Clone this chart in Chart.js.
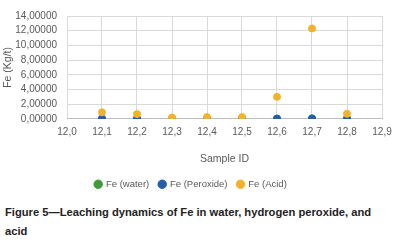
<!DOCTYPE html>
<html>
<head>
<meta charset="utf-8">
<script src="https://cdn.jsdelivr.net/npm/chart.js@4/dist/chart.umd.min.js"></script>
<style>
  html, body { margin: 0; padding: 0; background: #fff; }
  #wrap { position: relative; width: 402px; height: 199px; }
  #caption {
    font-family: "Liberation Sans", Arial, sans-serif;
    font-weight: bold;
    font-size: 11.2px;
    line-height: 19px;
    color: #222;
    margin: 4px 0 0 5px;
    width: 390px;
  }
</style>
</head>
<body>
<div id="wrap"><canvas id="feChart" width="402" height="199"></canvas></div>
<div id="caption">Figure 5—Leaching dynamics of Fe in water, hydrogen peroxide, and acid</div>
<script>
// Fe leaching chart (scatter)

const sampleIds = [12.1, 12.2, 12.3, 12.4, 12.5, 12.6, 12.7, 12.8];
const feWater = [0.02, 0.02, 0.02, 0.02, 0.02, 0.02, 0.02, 0.02];
const fePeroxide = [0.05, 0.06, 0.04, 0.05, 0.04, 0.05, 0.08, 0.05];
const feAcid = [0.9, 0.65, 0.2, 0.25, 0.25, 3.0, 12.3, 0.7];
const yTicks = [0, 2, 4, 6, 8, 10, 12, 14];
const xTicks = [12.0, 12.1, 12.2, 12.3, 12.4, 12.5, 12.6, 12.7, 12.8, 12.9];

function pts(vals) {
  return sampleIds.map((x, i) => ({ x: x, y: vals[i] }));
}

const tickFont = { family: '"Liberation Sans", Arial, sans-serif', size: 10 };
const grey = '#595959';

const ctx = document.getElementById('feChart').getContext('2d');
new Chart(ctx, {
  type: 'scatter',
  data: {
    datasets: [
      { label: 'Fe (water)', data: pts(feWater), backgroundColor: '#3e9a3c', borderColor: '#3e9a3c', pointRadius: 3.5, order: 3 },
      { label: 'Fe (Peroxide)', data: pts(fePeroxide), backgroundColor: '#245ea8', borderColor: '#245ea8', pointRadius: 3.5, order: 2 },
      { label: 'Fe (Acid)', data: pts(feAcid), backgroundColor: '#f2b32a', borderColor: '#f2b32a', pointRadius: 3.5, order: 1 }
    ]
  },
  options: {
    responsive: false,
    animation: false,
    layout: { padding: { top: 12, right: 20, left: 0, bottom: 0 } },
    plugins: {
      tooltip: { enabled: false },
      legend: {
        position: 'bottom',
        labels: {
          usePointStyle: true,
          pointStyle: 'circle',
          boxWidth: 6,
          boxHeight: 6,
          padding: 10,
          color: grey,
          font: { family: tickFont.family, size: 9.5 },
          sort: (a, b) => a.datasetIndex - b.datasetIndex
        }
      }
    },
    scales: {
      x: {
        type: 'linear',
        min: 12.0,
        max: 12.9,
        afterBuildTicks: axis => { axis.ticks = xTicks.map(v => ({ value: v })); },
        ticks: {
          color: grey,
          font: tickFont,
          padding: 7,
          autoSkip: false,
          maxRotation: 0,
          callback: v => v.toFixed(1).replace('.', ',')
        },
        grid: { color: '#d9d9d9', drawTicks: false },
        border: { color: '#bfbfbf' },
        title: { display: true, text: 'Sample ID', color: grey, font: { family: tickFont.family, size: 10.5 }, padding: { top: 8, bottom: 4 } }
      },
      y: {
        min: 0,
        max: 14,
        afterBuildTicks: axis => { axis.ticks = yTicks.map(v => ({ value: v })); },
        afterFit: axis => { axis.width = 67; },
        ticks: {
          color: grey,
          font: tickFont,
          padding: 10,
          autoSkip: false,
          callback: v => v.toFixed(5).replace('.', ',')
        },
        grid: { color: '#d9d9d9', drawTicks: false },
        border: { display: false },
        title: { display: true, text: 'Fe (Kg/t)', color: grey, font: { family: tickFont.family, size: 10.5 }, padding: { top: 2, bottom: 0 } }
      }
    }
  }
});
</script>
</body>
</html>
